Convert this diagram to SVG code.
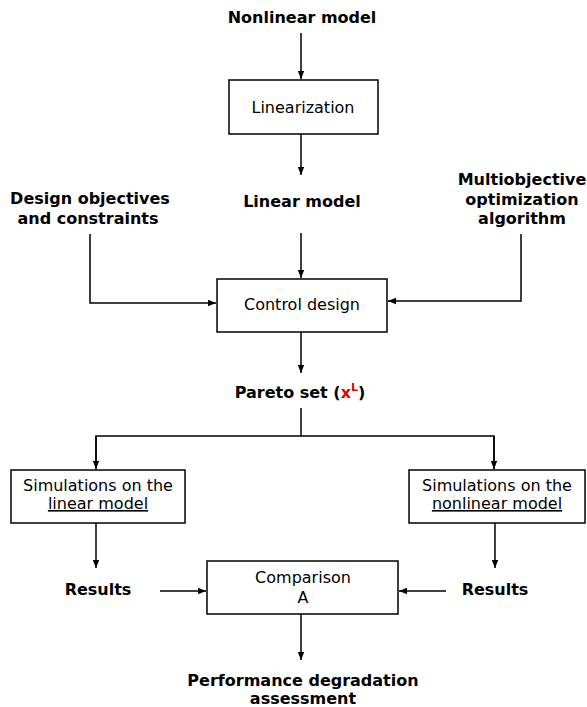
<svg xmlns="http://www.w3.org/2000/svg" width="587" height="707" viewBox="0 0 587 707">
<style>
.b{font-family:"DejaVu Sans",Verdana,sans-serif;font-size:16px;font-weight:bold;fill:#000;text-anchor:middle}
.r{font-family:"DejaVu Sans",Verdana,sans-serif;font-size:16px;fill:#000;text-anchor:middle}
.box{fill:#fff;stroke:#000;stroke-width:1.5}
.ln{fill:none;stroke:#000;stroke-width:1.5}
</style>
<defs>
<marker id="ah" viewBox="0 0 10 10" refX="10" refY="5" markerWidth="8" markerHeight="8" markerUnits="userSpaceOnUse" orient="auto">
<path d="M0,1 L10,5 L0,9 Z" fill="#000"/>
</marker>
</defs>
<rect width="587" height="707" fill="#fff"/>
<g id="connectors">
<path class="ln" d="M301,33 V79" marker-end="url(#ah)"/>
<path class="ln" d="M301,134 V175" marker-end="url(#ah)"/>
<path class="ln" d="M301,233 V278" marker-end="url(#ah)"/>
<path class="ln" d="M90,234 V303 H216" marker-end="url(#ah)"/>
<path class="ln" d="M521,234 V301 H388" marker-end="url(#ah)"/>
<path class="ln" d="M301,332 V373" marker-end="url(#ah)"/>
<path class="ln" d="M301,408 V436"/>
<path class="ln" d="M96,469 V436 H494 V469"/>
<path class="ln" d="M96,436 V469" marker-end="url(#ah)"/>
<path class="ln" d="M494,436 V469" marker-end="url(#ah)"/>
<path class="ln" d="M96,523 V568" marker-end="url(#ah)"/>
<path class="ln" d="M495,523 V568" marker-end="url(#ah)"/>
<path class="ln" d="M160,591 H206" marker-end="url(#ah)"/>
<path class="ln" d="M446,591 H399" marker-end="url(#ah)"/>
<path class="ln" d="M301,614 V660" marker-end="url(#ah)"/>
</g>
<g id="nonlinear-model"><text class="b" x="302" y="23">Nonlinear model</text></g>
<g id="linearization"><rect class="box" x="229" y="80" width="149" height="54"/><text class="r" x="303" y="113">Linearization</text></g>
<g id="linear-model"><text class="b" x="302" y="207">Linear model</text></g>
<g id="design-objectives"><text class="b" x="90" y="204">Design objectives</text><text class="b" x="88" y="224">and constraints</text></g>
<g id="multiobjective"><text class="b" x="522" y="185">Multiobjective</text><text class="b" x="522" y="205">optimization</text><text class="b" x="522" y="224">algorithm</text></g>
<g id="control-design"><rect class="box" x="217" y="279" width="170" height="53"/><text class="r" x="302" y="310">Control design</text></g>
<g id="pareto-set"><text class="b" x="300" y="398">Pareto set (<tspan fill="#e00000">x</tspan><tspan fill="#e00000" font-size="11" dy="-7">L</tspan><tspan dy="7">)</tspan></text></g>
<g id="sim-linear"><rect class="box" x="11" y="470" width="174" height="53"/><text class="r" x="98" y="491">Simulations on the</text><text class="r" x="98" y="509" text-decoration="underline">linear model</text></g>
<g id="sim-nonlinear"><rect class="box" x="409" y="470" width="176" height="53"/><text class="r" x="497" y="491">Simulations on the</text><text class="r" x="497" y="509" text-decoration="underline">nonlinear model</text></g>
<g id="results-left"><text class="b" x="98" y="595">Results</text></g>
<g id="results-right"><text class="b" x="495" y="595">Results</text></g>
<g id="comparison"><rect class="box" x="207" y="561" width="191" height="53"/><text class="r" x="303" y="583">Comparison</text><text class="r" x="303" y="603">A</text></g>
<g id="performance"><text class="b" x="303" y="686">Performance degradation</text><text class="b" x="303" y="704">assessment</text></g>
</svg>
